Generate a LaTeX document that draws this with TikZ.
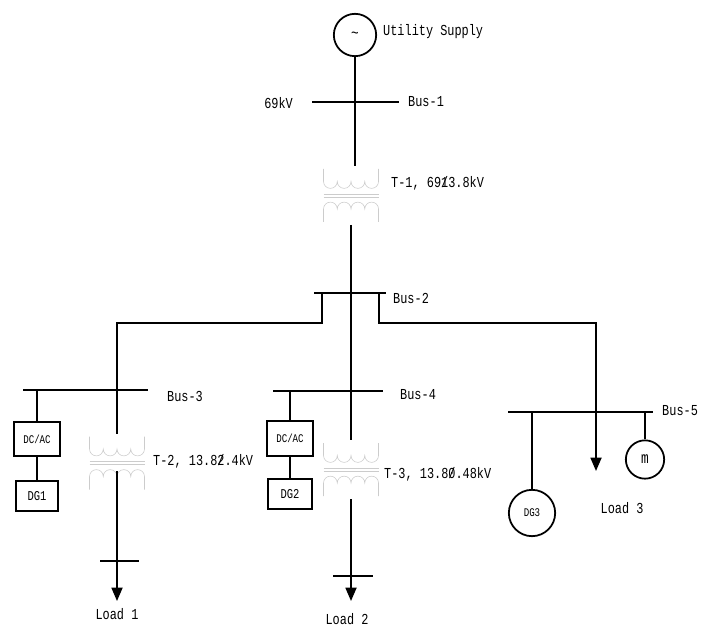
\documentclass[tikz,border=0pt]{standalone}
\usepackage{fontspec}
\usepackage{tikz}
\usetikzlibrary{arrows.meta}
\newfontfamily\lblfont[FakeStretch=0.78]{Liberation Mono}

\begin{document}
\begin{tikzpicture}[x=0.03cm,y=0.03cm,
		bus/.style={line width=2.5pt},
		wire/.style={line width=1.5pt},
		lbl/.style={font=\lblfont\fontsize{13}{14}\selectfont,inner sep=0pt},
		tag/.style={font=\lblfont\fontsize{10}{11}\selectfont,inner sep=0pt},
		box/.style={draw,line width=1.5pt,inner sep=0pt,tag},
		gen/.style={draw,circle,line width=1.5pt,inner sep=0pt,tag},
		load/.style={wire,-{Triangle[length=0.4cm,width=0.33cm]}},
		xfmr/.pic={
			\begin{scope}[gray!40,line width=0.5pt]
				\draw (-27.5,26.5) -- (-27.5,14) \foreach \i in {1,...,4}{arc[start angle=180,end angle=360,radius=6.875]} -- (27.5,26.5);
				\draw (-27.5,1.5) -- (27.5,1.5) (-27.5,-1.5) -- (27.5,-1.5);
				\draw (-27.5,-26.5) -- (-27.5,-13.5) \foreach \i in {1,...,4}{arc[start angle=180,end angle=0,radius=6.875]} -- (27.5,-26.5);
			\end{scope}
			\coordinate (-in) at (0,29.5);
			\coordinate (-out) at (0,-29.5);
			\coordinate (-mid) at (0,-8);
		}]
	\useasboundingbox (0,0) rectangle (706,-626);

	\node[gen,minimum size=1.27cm,font=\lblfont\fontsize{14}{15}\selectfont] (util) at (355,-35) {\textasciitilde};
	\node[lbl,anchor=west] (utilname) at (383,-32) {Utility Supply};

	\coordinate (b1w) at (312,-102);
	\coordinate (b1e) at (399,-102);
	\node[lbl,anchor=east] (kv69) at (293,-103) {69kV};
	\node[lbl,anchor=west] (b1name) at (408,-102) {Bus-1};

	\pic (T1) at (351,-195.5) {xfmr};
	\node[lbl,anchor=west] (t1name) at (391,-183) {T-1, 69\rlap{/}13.8kV};

	\coordinate (b2w) at (314,-293);
	\coordinate (b2e) at (386,-293);
	\coordinate (tapL) at (322,-293);
	\coordinate (tapR) at (379,-293);
	\node[lbl,anchor=west] (b2name) at (393,-298) {Bus-2};

	\coordinate (b3w) at (23,-390);
	\coordinate (b3e) at (148,-390);
	\node[lbl,anchor=west] (b3name) at (167,-396) {Bus-3};

	\coordinate (b4w) at (273,-391);
	\coordinate (b4e) at (383,-391);
	\node[lbl,anchor=west] (b4name) at (400,-395) {Bus-4};

	\coordinate (b5w) at (508,-412);
	\coordinate (b5e) at (653,-412);
	\node[lbl,anchor=west] (b5name) at (662,-411) {Bus-5};

	\node[box,minimum width=1.36cm,minimum height=1.03cm] (dcac1) at (37,-439) {DC/AC};
	\node[box,minimum width=1.28cm,minimum height=0.92cm,font=\lblfont\fontsize{11.5}{12}\selectfont] (dg1) at (37,-496) {DG1};
	\node[box,minimum width=1.36cm,minimum height=1.05cm] (dcac2) at (290,-438.5) {DC/AC};
	\node[box,minimum width=1.3cm,minimum height=0.92cm,font=\lblfont\fontsize{11.5}{12}\selectfont] (dg2) at (290,-494) {DG2};

	\pic (T2) at (117,-463) {xfmr};
	\node[lbl,anchor=west] (t2name) at (153,-461) {T-2, 13.8\rlap{/}2.4kV};
	\pic (T3) at (351,-469.5) {xfmr};
	\node[lbl,anchor=west] (t3name) at (384,-474) {T-3, 13.8\rlap{/}0.48kV};

	\coordinate (ld1w) at (100,-561);
	\coordinate (ld1e) at (139,-561);
	\coordinate (ld1) at (117,-601);
	\node[lbl] (ld1name) at (117,-614) {Load 1};
	\coordinate (ld2w) at (333,-576);
	\coordinate (ld2e) at (373,-576);
	\coordinate (ld2) at (351,-601);
	\node[lbl] (ld2name) at (347,-619) {Load 2};
	\coordinate (ld3) at (596,-471);
	\node[lbl] (ld3name) at (622,-508) {Load 3};

	\node[gen,minimum size=1.39cm] (dg3) at (532,-513) {DG3};
	\node[gen,minimum size=1.15cm,font=\lblfont\fontsize{14}{15}\selectfont] (mot) at (645,-459.5) {m};

	\draw[bus] (b1w) -- (b1e);
	\draw[bus] (b2w) -- (b2e);
	\draw[bus] (b3w) -- (b3e);
	\draw[bus] (b4w) -- (b4e);
	\draw[bus] (b5w) -- (b5e);
	\draw[bus] (ld1w) -- (ld1e);
	\draw[bus] (ld2w) -- (ld2e);

	\draw[wire] (util) -- (util |- T1-in);
	\draw[wire] (T1-out) -- (T3-in);
	\draw[wire] (tapL) -- ++(0,-30) -| (T2-in);
	\draw[load] (tapR) -- ++(0,-30) -| (ld3);
	\draw[wire] (dcac1 |- b3w) -- (dcac1);
	\draw[wire] (dcac1) -- (dg1);
	\draw[wire] (dcac2 |- b4w) -- (dcac2);
	\draw[wire] (dcac2) -- (dg2);
	\draw[load] (T2-mid) -- (ld1);
	\draw[load] (T3-out) -- (ld2);
	\draw[wire] (dg3 |- b5w) -- (dg3);
	\draw[wire] (mot |- b5w) -- (mot);
\end{tikzpicture}
\end{document}
